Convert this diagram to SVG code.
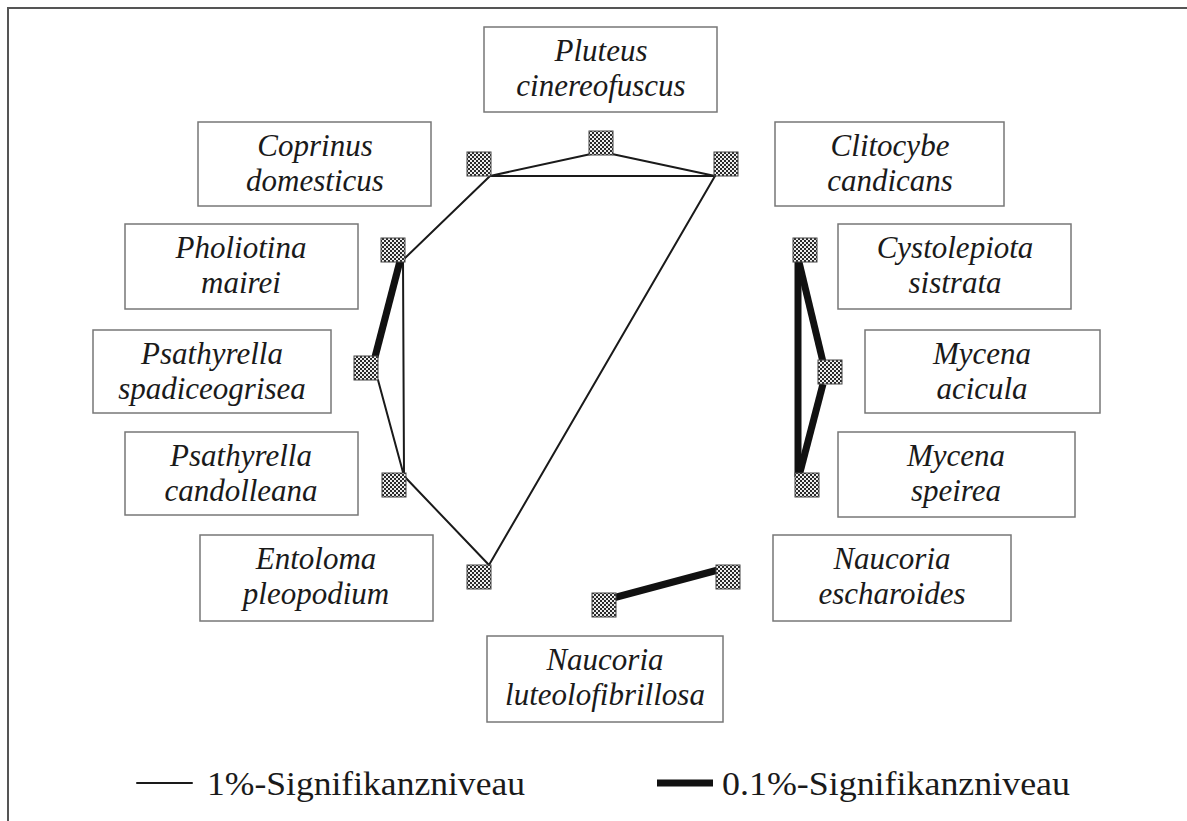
<svg xmlns="http://www.w3.org/2000/svg" width="1187" height="821" viewBox="0 0 1187 821">
<defs>
<pattern id="dots" width="4" height="4" patternUnits="userSpaceOnUse">
<rect width="4" height="4" fill="#eeeeee"/>
<rect x="0" y="0" width="2" height="2" fill="#2a2a2a"/>
<rect x="2" y="2" width="2" height="2" fill="#2a2a2a"/>
</pattern>
<style>
.box{fill:#fff;stroke:#777;stroke-width:1.5}
.lbl{font-family:"Liberation Serif","Times New Roman",serif;font-style:italic;font-size:31px;fill:#1a1a1a;text-anchor:middle}
.leg{font-family:"Liberation Serif","Times New Roman",serif;font-size:33px;fill:#1a1a1a}
.sq{fill:url(#dots);stroke:#444;stroke-width:1}
.thin{stroke:#1a1a1a;stroke-width:2;fill:none;stroke-linecap:round}
.thick{stroke:#111;stroke-width:7;fill:none;stroke-linecap:butt}
.frame{stroke:#555;stroke-width:2;fill:none}
</style>
</defs>
<rect width="1187" height="821" fill="#fff"/>
<path class="frame" d="M8,821 V8 H1187"/>
<g id="connectors">
<line class="thin" x1="591" y1="154" x2="490" y2="176"/>
<line class="thin" x1="612" y1="154" x2="715" y2="176"/>
<line class="thin" x1="490" y1="176" x2="715" y2="176"/>
<line class="thin" x1="490" y1="176" x2="403" y2="260"/>
<line class="thin" x1="715" y1="176" x2="489" y2="565"/>
<line class="thin" x1="403" y1="260" x2="404" y2="476"/>
<line class="thin" x1="378" y1="380" x2="404" y2="476"/>
<line class="thin" x1="404" y1="476" x2="489" y2="565"/>
<line class="thick" x1="400" y1="261" x2="375" y2="357"/>
<line class="thick" x1="798" y1="261" x2="798" y2="477"/>
<line class="thick" x1="799" y1="262" x2="823" y2="362"/>
<line class="thick" x1="823" y1="384" x2="799" y2="476"/>
<line class="thick" x1="613" y1="598" x2="718" y2="570"/>
</g>
<g id="pluteus"><rect class="box" x="484" y="27" width="233" height="85"/><text class="lbl" x="601" y="61">Pluteus</text><text class="lbl" x="601" y="96">cinereofuscus</text><rect class="sq" x="589" y="131" width="24" height="24"/></g>
<g id="coprinus"><rect class="box" x="198" y="122" width="233" height="84"/><text class="lbl" x="315" y="156">Coprinus</text><text class="lbl" x="315" y="191">domesticus</text><rect class="sq" x="467" y="152" width="24" height="24"/></g>
<g id="clitocybe"><rect class="box" x="775" y="122" width="229" height="84"/><text class="lbl" x="890" y="156">Clitocybe</text><text class="lbl" x="890" y="191">candicans</text><rect class="sq" x="714" y="152" width="24" height="24"/></g>
<g id="pholiotina"><rect class="box" x="125" y="224" width="233" height="85"/><text class="lbl" x="241" y="258">Pholiotina</text><text class="lbl" x="241" y="293">mairei</text><rect class="sq" x="381" y="238" width="24" height="24"/></g>
<g id="cystolepiota"><rect class="box" x="838" y="224" width="233" height="85"/><text class="lbl" x="955" y="258">Cystolepiota</text><text class="lbl" x="955" y="293">sistrata</text><rect class="sq" x="793" y="238" width="24" height="24"/></g>
<g id="psathyrella-spadiceogrisea"><rect class="box" x="93" y="330" width="238" height="83"/><text class="lbl" x="212" y="364">Psathyrella</text><text class="lbl" x="212" y="399">spadiceogrisea</text><rect class="sq" x="354" y="356" width="24" height="24"/></g>
<g id="mycena-acicula"><rect class="box" x="865" y="330" width="235" height="83"/><text class="lbl" x="982" y="364">Mycena</text><text class="lbl" x="982" y="399">acicula</text><rect class="sq" x="818" y="360" width="24" height="24"/></g>
<g id="psathyrella-candolleana"><rect class="box" x="125" y="432" width="233" height="83"/><text class="lbl" x="241" y="466">Psathyrella</text><text class="lbl" x="241" y="501">candolleana</text><rect class="sq" x="382" y="473" width="24" height="24"/></g>
<g id="mycena-speirea"><rect class="box" x="838" y="432" width="237" height="85"/><text class="lbl" x="956" y="466">Mycena</text><text class="lbl" x="956" y="501">speirea</text><rect class="sq" x="795" y="473" width="24" height="24"/></g>
<g id="entoloma"><rect class="box" x="200" y="535" width="233" height="86"/><text class="lbl" x="316" y="569">Entoloma</text><text class="lbl" x="316" y="604">pleopodium</text><rect class="sq" x="467" y="565" width="24" height="24"/></g>
<g id="naucoria-escharoides"><rect class="box" x="773" y="535" width="238" height="86"/><text class="lbl" x="892" y="569">Naucoria</text><text class="lbl" x="892" y="604">escharoides</text><rect class="sq" x="716" y="565" width="24" height="24"/></g>
<g id="naucoria-luteolofibrillosa"><rect class="box" x="487" y="636" width="236" height="86"/><text class="lbl" x="605" y="670">Naucoria</text><text class="lbl" x="605" y="705">luteolofibrillosa</text><rect class="sq" x="592" y="593" width="24" height="24"/></g>
<g id="legend">
<line class="thin" x1="137" y1="783" x2="192" y2="783" stroke-linecap="butt"/>
<text class="leg" x="207" y="795" textLength="318" lengthAdjust="spacingAndGlyphs">1%-Signifikanzniveau</text>
<line class="thick" x1="657" y1="783" x2="713" y2="783" stroke-width="8"/>
<text class="leg" x="722" y="795" textLength="348" lengthAdjust="spacingAndGlyphs">0.1%-Signifikanzniveau</text>
</g>
</svg>
